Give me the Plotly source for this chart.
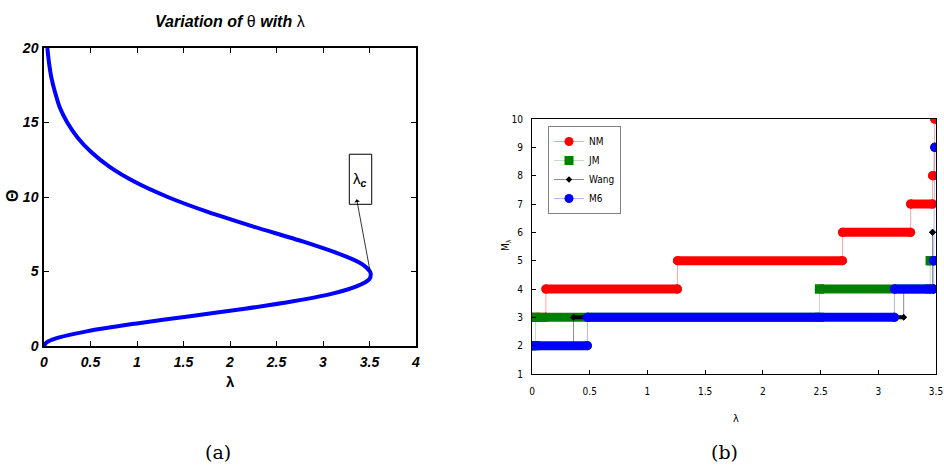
import plotly.graph_objects as go

# ---------------- Panel (a): variation of theta with lambda ----------------
theta_vals = [0, 0.25, 0.5, 1, 1.5, 2, 2.5, 3, 3.5, 4, 4.5, 4.8, 5, 5.5, 6, 7, 8,
              9, 10, 11, 12, 13, 14, 15, 16, 17, 18, 19, 20]
lambda_vals = [0, 0.03, 0.12, 0.47, 0.98, 1.57, 2.16, 2.68, 3.09, 3.36, 3.50, 3.514,
               3.505, 3.42, 3.25, 2.79, 2.26, 1.76, 1.33, 0.98, 0.71, 0.51, 0.36,
               0.25, 0.17, 0.12, 0.08, 0.054, 0.036]
a_xticks = [0, 0.5, 1, 1.5, 2, 2.5, 3, 3.5, 4]
a_yticks = [0, 5, 10, 15, 20]
lambda_c = 3.51
theta_c = 4.9

# ---------------- Panel (b): step counts M_lambda ----------------
nm_levels = [3, 4, 5, 6, 7, 8, 10]
nm_start = [0.00, 0.12, 1.26, 2.69, 3.28, 3.47, 3.49]
nm_end = [0.12, 1.26, 2.69, 3.28, 3.47, 3.48, 3.49]

jm_levels = [2, 3, 4, 5]
jm_start = [0.00, 0.03, 2.49, 3.45]
jm_end = [0.03, 2.49, 3.45, 3.46]

wang_levels = [2, 3, 4, 6]
wang_start = [0.00, 0.36, 3.22, 3.47]
wang_end = [0.36, 3.22, 3.47, 3.47]

m6_levels = [2, 3, 4, 5, 9]
m6_start = [0.00, 0.48, 3.14, 3.48, 3.49]
m6_end = [0.48, 3.14, 3.48, 3.48, 3.49]

b_xticks = [0, 0.5, 1, 1.5, 2, 2.5, 3, 3.5]
b_yticks = [1, 2, 3, 4, 5, 6, 7, 8, 9, 10]

W, H = 944, 470


def px_x(p):
    return p / W


def px_y(p):
    return (H - p) / H


NARROW = "Liberation Sans Narrow, Arial Narrow, Liberation Sans, sans-serif"
SMALL = "DejaVu Sans Condensed, DejaVu Sans, sans-serif"

fig = go.Figure()

fig.add_trace(go.Scatter(
    x=lambda_vals, y=theta_vals, mode="lines",
    line=dict(color="#0000ff", width=4, shape="spline", smoothing=0.8),
    xaxis="x", yaxis="y", showlegend=False, hoverinfo="skip"))

series = [
    ("NM", nm_start, nm_end, nm_levels, "#ff0000", "rgba(255,0,0,0.35)", "circle", 9, 9),
    ("JM", jm_start, jm_end, jm_levels, "#007f00", "rgba(0,127,0,0.25)", "square", 9, 9),
    ("Wang", wang_start, wang_end, wang_levels, "#000000", "rgba(0,0,0,0.45)", "diamond", 5, 4),
    ("M6", m6_start, m6_end, m6_levels, "#0000ff", "rgba(0,0,255,0.3)", "circle", 9, 9),
]

for name, st, en, lv, col, light, sym, msize, lw in series:
    px_, py_ = [], []
    bx, by = [], []
    for s, e, m in zip(st, en, lv):
        px_ += [s, e]
        py_ += [m, m]
        bx += [s, e, None]
        by += [m, m, None]
    fig.add_trace(go.Scatter(
        x=px_, y=py_, mode="lines+markers", name=name,
        line=dict(color=light, width=1),
        marker=dict(symbol=sym, size=msize, color=col),
        xaxis="x2", yaxis="y2", legendgroup=name, hoverinfo="skip"))
    fig.add_trace(go.Scatter(
        x=bx, y=by, mode="lines+markers",
        line=dict(color=col, width=lw),
        marker=dict(symbol=sym, size=msize, color=col),
        xaxis="x2", yaxis="y2", legendgroup=name, showlegend=False,
        hoverinfo="skip"))

a_font = dict(family=NARROW, size=14, color="black", weight="bold", style="italic")
b_font = dict(family=SMALL, size=10, color="black")

fig.update_layout(
    width=W, height=H,
    margin=dict(l=0, r=0, t=0, b=0, autoexpand=False),
    paper_bgcolor="white", plot_bgcolor="white",
    xaxis=dict(domain=[px_x(44), px_x(416)], range=[0, 4], tickvals=a_xticks,
               ticks="inside", ticklen=5, tickcolor="black", mirror="ticks",
               showline=True, linecolor="black", linewidth=1.5, showgrid=False,
               zeroline=False, tickfont=a_font, anchor="y", ticklabelstandoff=2,
               automargin=False),
    yaxis=dict(domain=[px_y(346), px_y(48)], range=[0, 20], tickvals=a_yticks,
               ticks="inside", ticklen=5, tickcolor="black", mirror="ticks",
               showline=True, linecolor="black", linewidth=1.5, showgrid=False,
               zeroline=False, tickfont=a_font, anchor="x", ticklabelstandoff=1,
               automargin=False),
    xaxis2=dict(domain=[px_x(532), px_x(936)], range=[0, 3.5], tickvals=b_xticks,
                ticks="inside", ticklen=4, tickcolor="black", mirror=True,
                showline=True, linecolor="black", linewidth=1.2, showgrid=False,
                zeroline=False, tickfont=b_font, anchor="y2", ticklabelstandoff=8,
                automargin=False),
    yaxis2=dict(domain=[px_y(374), px_y(119)], range=[1, 10], tickvals=b_yticks,
                ticks="inside", ticklen=4, tickcolor="black", mirror=True,
                showline=True, linecolor="black", linewidth=1.2, showgrid=False,
                zeroline=False, tickfont=b_font, anchor="x2", ticklabelstandoff=6,
                automargin=False),
    legend=dict(x=px_x(548), y=px_y(126), xanchor="left", yanchor="top",
                bgcolor="white", bordercolor="#808080", borderwidth=1,
                font=dict(family=SMALL, size=10, color="black"),
                itemwidth=30, tracegroupgap=0),
)

# lambda_c callout on panel (a)
fig.add_shape(type="rect", xref="x", yref="y", x0=3.283, x1=3.524, y0=9.51, y1=12.87,
              line=dict(color="black", width=1), fillcolor="white", layer="above")
fig.add_annotation(x=3.40, y=11.2, xref="x", yref="y", showarrow=False,
                   text="λ<sub><b><i>c</i></b></sub>",
                   font=dict(family=NARROW, size=15, color="black"))
fig.add_annotation(x=3.362, y=9.85, xref="x", yref="y", ax=lambda_c, ay=theta_c,
                   axref="x", ayref="y", text="", showarrow=True, arrowhead=1,
                   arrowsize=1.2, arrowwidth=0.8, arrowcolor="black")

texts = [
    dict(x=px_x(230), y=px_y(22),
         text="<b><i>Variation of</i></b> θ <b><i>with</i></b> λ",
         font=dict(family=NARROW, size=16, color="black")),
    dict(x=px_x(12), y=px_y(196), text="<b>Θ</b>", textangle=-90,
         font=dict(family=NARROW, size=16, color="black")),
    dict(x=px_x(230), y=px_y(381), text="<b>λ</b>",
         font=dict(family=NARROW, size=15, color="black")),
    dict(x=px_x(736), y=px_y(418), text="λ",
         font=dict(family=SMALL, size=11, color="black")),
    dict(x=px_x(507), y=px_y(245), text="M<sub>λ</sub>", textangle=-90,
         font=dict(family=SMALL, size=10, color="black")),
    dict(x=px_x(218), y=px_y(452), text="(a)",
         font=dict(family="DejaVu Serif, Liberation Serif, serif", size=19, color="black")),
    dict(x=px_x(724), y=px_y(452), text="(b)",
         font=dict(family="DejaVu Serif, Liberation Serif, serif", size=19, color="black")),
]
for t in texts:
    fig.add_annotation(xref="paper", yref="paper", showarrow=False,
                       xanchor="center", yanchor="middle", **t)

fig.write_html("out.html",
               config={"displayModeBar": False},
               post_script="document.body.style.margin='0px';"
                           "document.body.style.overflow='hidden';")
